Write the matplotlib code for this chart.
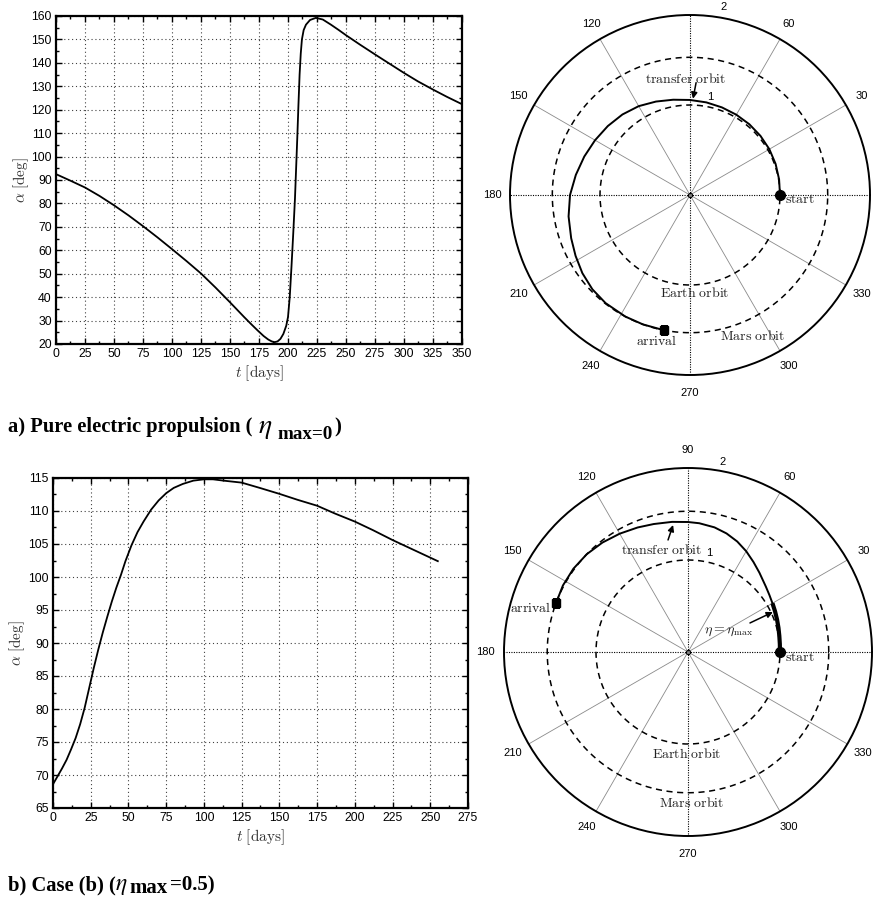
import numpy as np
import matplotlib
matplotlib.use('Agg')
import matplotlib.pyplot as plt
from matplotlib.ticker import MultipleLocator

# ------------------------------
# Steering angle histories
# ------------------------------
t_a = [0, 12.5, 25, 37.5, 50, 62.5, 75, 87.5, 100, 112.5, 125, 137.5, 150,
       156, 162, 168, 174, 179, 183, 186, 188.5, 191, 193.5, 196, 198.5, 200,
       201.5, 203, 204.5, 206, 207, 208, 209, 210, 211, 212, 213.5, 215.5,
       219, 224, 230, 237, 243.5, 250, 262, 275, 287, 300, 312, 325, 337, 349]
alpha_a = [92.5, 89.7, 86.8, 83.2, 79.2, 74.9, 70.3, 65.5, 60.5, 55.4, 50.1,
           44.1, 37.8, 34.7, 31.6, 28.6, 25.7, 23.4, 21.9, 21.1, 20.8, 21.1,
           22.2, 24.3, 27.8, 31.5, 40, 53, 67, 82, 95, 108, 122, 135, 144,
           150, 154, 156.3, 158.3, 159.2, 158.5, 156.3, 154.1, 151.8, 147.8,
           143.6, 139.8, 135.7, 132.1, 128.6, 125.5, 122.6]

t_b = [0, 3, 6, 9, 12, 15, 18, 21, 24, 27, 30, 33, 36, 39, 42, 45, 48, 52,
       56, 60, 65, 70, 75, 80, 86, 93, 100, 106, 113, 125, 137, 150, 162, 175,
       187, 200, 212, 225, 240, 255]
alpha_b = [68.6, 69.8, 71.0, 72.3, 73.9, 75.6, 77.7, 80.2, 83.2, 86.2, 89.0,
           91.6, 94.0, 96.3, 98.4, 100.3, 102.4, 104.8, 106.8, 108.4, 110.2,
           111.6, 112.7, 113.5, 114.1, 114.6, 114.8, 114.8, 114.6, 114.3,
           113.5, 112.6, 111.7, 110.8, 109.6, 108.4, 107.1, 105.6, 104.0, 102.4]

# ------------------------------
# Heliocentric trajectories (theta in deg, r in AU)
# ------------------------------
R_EARTH = 1.0
R_MARS = 1.53

theta_a = [0, 10, 20, 30, 40, 50, 60, 70, 80, 90, 100, 110, 120, 130, 140,
           150, 160, 170, 180, 190, 200, 208, 216, 224, 232, 242, 250, 259]
r_a = [1.0, 1.005, 1.012, 1.018, 1.022, 1.026, 1.03, 1.036, 1.045, 1.056,
       1.075, 1.105, 1.14, 1.168, 1.192, 1.218, 1.25, 1.288, 1.333, 1.37,
       1.405, 1.44, 1.478, 1.508, 1.524, 1.53, 1.53, 1.53]

theta_b = [0, 5, 10, 15, 20, 25, 30, 35, 40, 48, 54, 60, 66, 72, 78, 85, 90,
           97, 105, 112, 120, 128, 136, 144, 152, 159.5]
r_b = [1.0, 1.002, 1.008, 1.018, 1.03, 1.044, 1.06, 1.08, 1.105, 1.16, 1.21,
       1.265, 1.315, 1.355, 1.385, 1.405, 1.413, 1.425, 1.44, 1.46, 1.485,
       1.51, 1.53, 1.54, 1.54, 1.53]
ETA_MAX_END = 30  # end of the eta = eta_max arc (deg)

TICK_FONT = 'Liberation Sans'
CAP_FONT = 'Liberation Serif'
plt.rcParams['mathtext.fontset'] = 'cm'

W, H = 887, 899
fig = plt.figure(figsize=(W / 100, H / 100), dpi=100)


def px_rect(left, top, right, bottom):
    return [left / W, 1 - bottom / H, (right - left) / W, (bottom - top) / H]


# ------------------------------
# alpha(t) panels
# ------------------------------
def alpha_panel(rect, t, alpha, xmax, ylim, ystep, ylabelpad):
    ax = fig.add_axes(rect)
    ax.plot(t, alpha, color='k', lw=1.3)
    ax.set_xlim(0, xmax)
    ax.set_ylim(*ylim)
    ax.xaxis.set_major_locator(MultipleLocator(25))
    ax.xaxis.set_minor_locator(MultipleLocator(12.5))
    ax.yaxis.set_major_locator(MultipleLocator(ystep))
    ax.yaxis.set_minor_locator(MultipleLocator(ystep / 2))
    ax.grid(True, which='major', ls=(0, (1, 2.5)), color='k', lw=0.8, alpha=0.75)
    ax.tick_params(which='both', direction='in', top=True, right=True,
                   width=1.0, labelsize=8.8, pad=3)
    ax.tick_params(which='major', length=4)
    ax.tick_params(which='minor', length=2.5)
    for lab in ax.get_xticklabels() + ax.get_yticklabels():
        lab.set_fontfamily(TICK_FONT)
    for s in ax.spines.values():
        s.set_linewidth(1.6)
    ax.set_xlabel(r'$t\ [\mathrm{days}]$', fontsize=11, color='#333333', labelpad=2)
    ax.set_ylabel(r'$\alpha\ [\mathrm{deg}]$', fontsize=11, color='#333333',
                  labelpad=ylabelpad)
    return ax


alpha_panel(px_rect(56, 16, 462, 344), t_a, alpha_a, 350, (20, 160), 10, 0)
alpha_panel(px_rect(53, 478, 468, 808), t_b, alpha_b, 275, (65, 115), 5, 1)


# ------------------------------
# polar trajectory panels
# ------------------------------
def polar_panel(cx, cy, rad, hidden=()):
    ax = fig.add_axes(px_rect(cx - rad, cy - rad, cx + rad, cy + rad),
                      projection='polar')
    ax.set_ylim(0, 2)
    ax.grid(False)
    ax.set_xticks([])
    ax.set_yticks([])
    ax.spines['polar'].set_linewidth(1.4)
    for ang in range(0, 360, 30):
        th = np.deg2rad(ang)
        if ang % 90 == 0:
            ax.plot([th, th], [0, 2], color='k', lw=0.8, ls=(0, (1, 1.2)))
        else:
            ax.plot([th, th], [0, 2], color='#8a8a8a', lw=0.6)
        if ang not in hidden:  # these fall off the page
            ax.text(th, 2.2, str(ang), ha='center', va='center', fontsize=8,
                    fontfamily=TICK_FONT)
    full = np.linspace(0, 2 * np.pi, 500)
    for rr in (R_EARTH, R_MARS):
        ax.plot(full, np.full_like(full, rr), color='k', lw=1.1, ls=(0, (4, 3)))
    ax.plot(0, 0, 'o', ms=3, mfc='none', mec='k', mew=0.8)
    return ax


def label(ax, th_deg, r, s, size=10):
    ax.text(np.deg2rad(th_deg), r, r'$\mathrm{' + s.replace(' ', r'\ ') + '}$',
            ha='center', va='center', fontsize=size, color='#222222')


def arrow(ax, tail, head):
    ax.annotate('', xy=(np.deg2rad(head[0]), head[1]),
                xytext=(np.deg2rad(tail[0]), tail[1]),
                arrowprops=dict(arrowstyle='-|>', color='k', lw=1.1,
                                mutation_scale=9, shrinkA=0, shrinkB=0))


def rlabels(ax, r1, r2):
    ax.text(np.deg2rad(r1[0]), r1[1], '1', ha='center', va='center',
            fontsize=8, fontfamily=TICK_FONT)
    ax.text(np.deg2rad(r2[0]), r2[1], '2', ha='center', va='center',
            fontsize=8, fontfamily=TICK_FONT)


# case (a)
pa = polar_panel(690, 195, 180, hidden=(0, 90))
th = np.deg2rad(theta_a)
pa.plot(th, r_a, color='k', lw=1.4)
pa.plot(th[0], r_a[0], 'o', ms=7, color='k')
pa.plot(th[-1], r_a[-1], 's', ms=5.5, color='k')
rlabels(pa, (78.5, 1.11), (80, 2.12))
label(pa, 92, 1.29, 'transfer orbit')
arrow(pa, (86.9, 1.25), (88.2, 1.07))
label(pa, 273, 1.09, 'Earth orbit')
label(pa, 294, 1.716, 'Mars orbit')
label(pa, 257.3, 1.663, 'arrival')
label(pa, -2.1, 1.223, 'start')

# case (b)
pb = polar_panel(688, 652, 184, hidden=(0,))
th = np.deg2rad(theta_b)
pb.plot(th, r_b, color='k', lw=1.4)
k = theta_b.index(ETA_MAX_END) + 1
pb.plot(th[:k], r_b[:k], color='k', lw=3.0, solid_capstyle='butt')
pb.plot(th[0], r_b[0], 'o', ms=7, color='k')
pb.plot(th[-1], r_b[-1], 's', ms=5.5, color='k')
rlabels(pb, (78, 1.10), (79.8, 2.10))
label(pb, 104.3, 1.144, 'transfer orbit')
arrow(pb, (100.1, 1.237), (96.7, 1.39))
pb.text(np.deg2rad(27.1), 0.5, r'$\eta = \eta_{\max}$', ha='center',
        va='center', fontsize=10, color='#222222')
arrow(pb, (25.1, 0.744), (25.2, 1.02))
label(pb, 269.4, 1.109, 'Earth orbit')
label(pb, 271.5, 1.642, 'Mars orbit')
label(pb, 164.4, 1.78, 'arrival')
label(pb, -2.6, 1.219, 'start')


# ------------------------------
# captions (pieces placed in pixels, baseline aligned)
# ------------------------------
def cap(x, y, s, size, math=False):
    if math:
        fig.text(x / W, 1 - y / H, s, fontsize=size, math_fontfamily='stix',
                 va='baseline', ha='left')
    else:
        fig.text(x / W, 1 - y / H, s, fontfamily=CAP_FONT, fontweight='bold',
                 fontsize=size, va='baseline', ha='left')


cap(8, 432, 'a) Pure electric propulsion (', 14.8)
cap(258, 433, r'$\eta$', 20, math=True)
cap(277, 439, 'max=0', 13.7)
cap(334, 432, ')', 14.8)

cap(8, 890, 'b) Case (b) (', 14.8)
cap(115, 890, r'$\eta$', 17, math=True)
cap(129, 893, 'max', 15)
cap(170, 890, '=0.5)', 15)

fig.savefig('out.png', dpi=100)
